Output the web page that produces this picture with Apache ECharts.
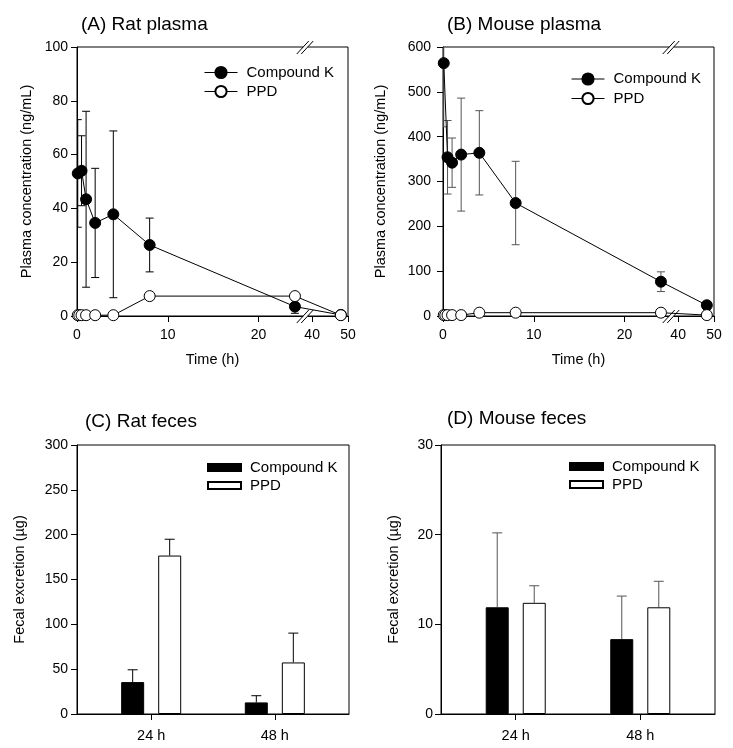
<!DOCTYPE html>
<html>
<head>
<meta charset="utf-8">
<script src="https://cdn.jsdelivr.net/npm/echarts@6/dist/echarts.min.js"></script>
<style>
html, body { margin: 0; padding: 0; background: #fff; }
#main { width: 733px; height: 748px; }
</style>
</head>
<body>
<div id="main"></div>
<script>
// sampling times (h)
var ckTimes = [0.083, 0.5, 1, 2, 4, 8, 24, 48];
var ppdTimes = [0.083, 0.25, 0.5, 1, 2, 4, 8, 24, 48];
var timeTicks = [0, 10, 20, 40, 50];

// (A) rat plasma (ng/mL)
var ratCK = [53, 54, 43.4, 34.6, 37.8, 26.4, 3.5, 0.4];
var ratCKsd = [20, 13, 32.7, 20.3, 31, 10, 2.5, 0];
var ratPPD = [0.3, 0.3, 0.3, 0.3, 0.3, 0.3, 7.4, 7.4, 0.3];

// (B) mouse plasma (ng/mL)
var mouseCK = [564, 354, 342, 360, 364, 252, 76.5, 24];
var mouseCKsd = [142, 82, 55, 126, 94, 93, 22, 0];
var mousePPD = [2, 2, 2, 2, 2, 7.4, 7.4, 7.4, 2];

// (C)/(D) fecal excretion (ug)
var fecesTimes = ['24 h', '48 h'];
var ratFecesCK = [35.6, 12.9];
var ratFecesCKsd = [13.7, 7.5];
var ratFecesPPD = [176.7, 57.5];
var ratFecesPPDsd = [18.2, 32.7];
var mouseFecesCK = [11.9, 8.35];
var mouseFecesCKsd = [8.3, 4.8];
var mouseFecesPPD = [12.4, 11.9];
var mouseFecesPPDsd = [1.9, 2.9];

var FONT = 'Liberation Sans, Arial, sans-serif';

// broken time axis: 0-25 h linear, then compressed 40-50 h part
var BREAK_U = 25.3, BREAK_T = 38.5, AFTER = 0.395;
function toAxis(t) { return t <= BREAK_U ? t : BREAK_U + (t - BREAK_T) * AFTER; }
function fromAxis(u) { return u <= BREAK_U + 1e-6 ? u : BREAK_T + (u - BREAK_U) / AFTER; }

var grids = [
    {left: 77, top: 47, width: 271, height: 269},
    {left: 443, top: 47, width: 271, height: 269},
    {left: 77, top: 445, width: 272, height: 269},
    {left: 441, top: 445, width: 274, height: 269}
];

var txt = function (size) {
    return {color: '#000', fontSize: size, fontFamily: FONT};
};

var timeAxis = function (gi) {
    var ticks = timeTicks.map(toAxis);
    return {
        type: 'value', gridIndex: gi, min: 0, max: toAxis(50),
        name: 'Time (h)', nameLocation: 'middle', nameGap: 36, nameTextStyle: txt(14.5),
        axisLine: {onZero: false, lineStyle: {color: '#000', width: 1}},
        axisTick: {customValues: ticks, length: 6, lineStyle: {color: '#000'}},
        axisLabel: Object.assign({customValues: ticks, margin: 12, formatter: function (v) {
            return Math.round(fromAxis(v));
        }}, txt(14)),
        splitLine: {show: false}
    };
};

var dayAxis = function (gi) {
    return {
        type: 'value', gridIndex: gi, min: 0.4, max: 2.6,
        axisLine: {onZero: false, lineStyle: {color: '#000', width: 1}},
        axisTick: {customValues: [1, 2], length: 6, lineStyle: {color: '#000'}},
        axisLabel: Object.assign({customValues: [1, 2], margin: 14, formatter: function (v) {
            return fecesTimes[Math.round(v) - 1];
        }}, txt(14.5)),
        splitLine: {show: false}
    };
};

var valAxis = function (gi, max, step, name, gap, margin) {
    return {
        type: 'value', gridIndex: gi, min: 0, max: max, interval: step,
        name: name, nameLocation: 'middle', nameGap: gap, nameTextStyle: txt(14.5),
        axisLine: {show: true, lineStyle: {color: '#000', width: 1}},
        axisTick: {show: true, length: 6, lineStyle: {color: '#000'}},
        axisLabel: Object.assign({margin: margin}, txt(14)),
        splitLine: {show: false}
    };
};

var zip = function (times, vals) {
    return times.map(function (t, i) { return [toAxis(t), vals[i]]; });
};

var lineSeries = function (gi, name, times, vals, fill) {
    return {
        type: 'line', name: name, xAxisIndex: gi, yAxisIndex: gi,
        data: zip(times, vals), symbol: 'circle', symbolSize: 11,
        lineStyle: {color: '#000', width: 1},
        itemStyle: {color: fill, borderColor: '#000', borderWidth: 1},
        z: 3
    };
};

// vertical SD bars for the plasma curves
var plasmaErr = function (gi, times, vals, sds, color) {
    var data = [];
    times.forEach(function (t, i) {
        if (sds[i] > 0) data.push([toAxis(t), vals[i] - sds[i], vals[i] + sds[i]]);
    });
    return {
        type: 'custom', xAxisIndex: gi, yAxisIndex: gi, clip: true, silent: true, z: 1,
        encode: {x: 0, y: [1, 2]}, data: data,
        renderItem: function (params, api) {
            var lo = api.coord([api.value(0), api.value(1)]);
            var hi = api.coord([api.value(0), api.value(2)]);
            var st = {stroke: color, lineWidth: 1};
            return {type: 'group', children: [
                {type: 'line', shape: {x1: hi[0], y1: hi[1], x2: lo[0], y2: lo[1]}, style: st},
                {type: 'line', shape: {x1: hi[0] - 4, y1: hi[1], x2: hi[0] + 4, y2: hi[1]}, style: st},
                {type: 'line', shape: {x1: lo[0] - 4, y1: lo[1], x2: lo[0] + 4, y2: lo[1]}, style: st}
            ]};
        }
    };
};

var barSeries = function (gi, name, vals, fill) {
    return {
        type: 'bar', name: name, xAxisIndex: gi, yAxisIndex: gi,
        data: vals.map(function (v, i) { return [i + 1, v]; }),
        barWidth: 23, barGap: '61%',
        itemStyle: {color: fill, borderColor: '#000', borderWidth: 1}
    };
};

// upward SD bars on the fecal bars
var barErr = function (gi, vals, sds, shift, color) {
    return {
        type: 'custom', xAxisIndex: gi, yAxisIndex: gi, silent: true, z: 1,
        encode: {x: 0, y: [1, 2]},
        data: vals.map(function (v, i) { return [i + 1, v, v + sds[i]]; }),
        renderItem: function (params, api) {
            var lo = api.coord([api.value(0), api.value(1)]);
            var hi = api.coord([api.value(0), api.value(2)]);
            var x = lo[0] + shift;
            var st = {stroke: color, lineWidth: 1};
            return {type: 'group', children: [
                {type: 'line', shape: {x1: x, y1: hi[1], x2: x, y2: lo[1]}, style: st},
                {type: 'line', shape: {x1: x - 5, y1: hi[1], x2: x + 5, y2: hi[1]}, style: st}
            ]};
        }
    };
};

var legendItem = function (name, left, top, icon) {
    var isBar = icon === 'rect';
    return {
        data: [isBar ? {name: name, icon: 'rect'} : name],
        left: left, top: top, padding: 0, selectedMode: false,
        itemWidth: 33, itemHeight: isBar ? 7 : 14,
        lineStyle: {width: 1, color: '#000'},
        formatter: function (n) { return n.split('|')[0]; },
        textStyle: Object.assign({padding: [0, 0, 0, 4]}, txt(15))
    };
};

var titleItem = function (text, left, top) {
    return {text: text, left: left, top: top, padding: 0,
        textStyle: {color: '#000', fontSize: 19, fontWeight: 'normal', fontFamily: FONT}};
};

var chart = echarts.init(document.getElementById('main'));
chart.setOption({
    animation: false,
    backgroundColor: '#fff',
    title: [
        titleItem('(A) Rat plasma', 81, 15),
        titleItem('(B) Mouse plasma', 447, 15),
        titleItem('(C) Rat feces', 85, 412),
        titleItem('(D) Mouse feces', 447, 409)
    ],
    legend: [
        legendItem('Compound K', 204, 65),
        legendItem('PPD', 204, 84),
        legendItem('Compound K', 571, 71.5),
        legendItem('PPD', 571, 91),
        legendItem('Compound K|bar', 207, 460, 'rect'),
        legendItem('PPD|bar', 207, 478, 'rect'),
        legendItem('Compound K|bar', 569, 459, 'rect'),
        legendItem('PPD|bar', 569, 477, 'rect')
    ],
    grid: grids.map(function (g) {
        return Object.assign({show: true, borderColor: '#000', borderWidth: 1, backgroundColor: 'transparent'}, g);
    }),
    xAxis: [timeAxis(0), timeAxis(1), dayAxis(2), dayAxis(3)],
    yAxis: [
        valAxis(0, 100, 20, 'Plasma concentration (ng/mL)', 43, 9),
        valAxis(1, 600, 100, 'Plasma concentration (ng/mL)', 55, 12),
        valAxis(2, 300, 50, 'Fecal excretion (µg)', 50, 9),
        valAxis(3, 30, 10, 'Fecal excretion (µg)', 40, 8)
    ],
    series: [
        plasmaErr(0, ckTimes, ratCK, ratCKsd, '#000'),
        lineSeries(0, 'Compound K', ckTimes, ratCK, '#000'),
        lineSeries(0, 'PPD', ppdTimes, ratPPD, '#fff'),
        plasmaErr(1, ckTimes, mouseCK, mouseCKsd, '#555'),
        lineSeries(1, 'Compound K', ckTimes, mouseCK, '#000'),
        lineSeries(1, 'PPD', ppdTimes, mousePPD, '#fff'),
        barSeries(2, 'Compound K|bar', ratFecesCK, '#000'),
        barSeries(2, 'PPD|bar', ratFecesPPD, '#fff'),
        barErr(2, ratFecesCK, ratFecesCKsd, -18.5, '#000'),
        barErr(2, ratFecesPPD, ratFecesPPDsd, 18.5, '#000'),
        barSeries(3, 'Compound K|bar', mouseFecesCK, '#000'),
        barSeries(3, 'PPD|bar', mouseFecesPPD, '#fff'),
        barErr(3, mouseFecesCK, mouseFecesCKsd, -18.5, '#555'),
        barErr(3, mouseFecesPPD, mouseFecesPPDsd, 18.5, '#555')
    ]
});

// axis-break marks "//" on bottom axis and top frame of the plasma panels
var marks = [];
[0, 1].forEach(function (gi) {
    var bx = chart.convertToPixel({xAxisIndex: gi}, BREAK_U);
    var g = grids[gi];
    [g.top, g.top + g.height].forEach(function (y) {
        marks.push({type: 'rect', shape: {x: bx - 3.5, y: y - 2, width: 4.5, height: 4}, style: {fill: '#fff'}, z: 100});
        marks.push({type: 'line', shape: {x1: bx - 10, y1: y + 7, x2: bx + 2, y2: y - 6}, style: {stroke: '#000', lineWidth: 1}, z: 101});
        marks.push({type: 'line', shape: {x1: bx - 5.5, y1: y + 7, x2: bx + 6.5, y2: y - 6}, style: {stroke: '#000', lineWidth: 1}, z: 101});
    });
});
chart.setOption({graphic: marks});
</script>
</body>
</html>
